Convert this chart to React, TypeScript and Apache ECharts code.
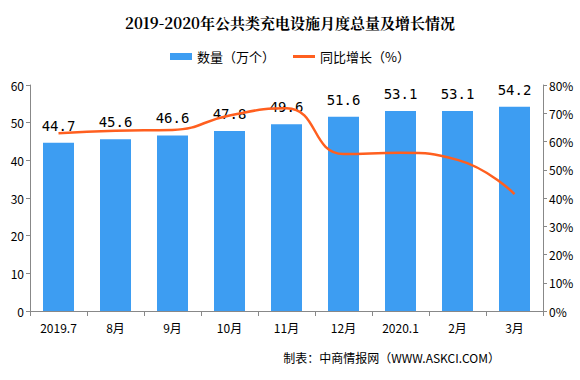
import React, { useEffect, useRef } from "react";
import * as echarts from "echarts";

const categories = ["2019.7", "8月", "9月", "10月", "11月", "12月", "2020.1", "2月", "3月"];
const counts = [44.7, 45.6, 46.6, 47.8, 49.6, 51.6, 53.1, 53.1, 54.2];
const growth = [62.9, 63.8, 64.1, 69.2, 71.8, 55.6, 56.0, 53.5, 41.4];

const FONT = "'Noto Sans CJK SC', 'Noto Sans', sans-serif";

export default function App() {
  const ref = useRef<HTMLDivElement>(null);
  useEffect(() => {
    const chart = echarts.init(ref.current!, null, { renderer: "svg" });
    chart.setOption({
      animation: false,
      backgroundColor: "#ffffff",
      title: {
        text: "2019-2020年公共类充电设施月度总量及增长情况",
        left: "center",
        top: 10,
        textStyle: { fontSize: 15, fontWeight: "bold", color: "#000", fontFamily: "'Noto Serif CJK SC', 'Noto Sans CJK SC', serif" },
      },
      legend: {
        top: 45,
        left: "center",
        itemWidth: 22,
        itemHeight: 7,
        itemGap: 18,
        textStyle: { fontSize: 13, color: "#000", fontFamily: FONT },
        data: [
          { name: "数量（万个）", icon: "rect" },
          { name: "同比增长（%）", icon: "path://M0,0 L22,0 L22,3 L0,3 Z" },
        ],
      },
      grid: { left: 30, right: 37, top: 85, bottom: 69, containLabel: false },
      xAxis: {
        type: "category",
        data: categories,
        axisLine: { lineStyle: { color: "#888" } },
        axisTick: { show: true, alignWithLabel: false, length: 5, lineStyle: { color: "#888" } },
        axisLabel: { color: "#000", fontSize: 12, margin: 10, fontFamily: FONT },
      },
      yAxis: [
        {
          type: "value",
          min: 0,
          max: 60,
          interval: 10,
          axisLine: { show: true, lineStyle: { color: "#888" } },
          axisTick: { show: true, length: 4, lineStyle: { color: "#888" } },
          splitLine: { show: false },
          axisLabel: { color: "#000", fontSize: 12, margin: 6, fontFamily: FONT },
        },
        {
          type: "value",
          min: 0,
          max: 80,
          interval: 10,
          position: "right",
          axisLine: { show: true, lineStyle: { color: "#888" } },
          axisTick: { show: true, length: 4, lineStyle: { color: "#888" } },
          splitLine: { show: false },
          axisLabel: { color: "#000", fontSize: 12, margin: 6, formatter: "{value}%", fontFamily: FONT },
        },
      ],
      series: [
        {
          name: "数量（万个）",
          type: "bar",
          data: counts,
          barWidth: 31,
          itemStyle: { color: "#3D9DF2" },
          label: {
            show: true,
            position: "top",
            distance: 10,
            color: "#000",
            fontSize: 14,
            fontFamily: "'DejaVu Sans Mono', monospace",
          },
        },
        {
          name: "同比增长（%）",
          type: "line",
          yAxisIndex: 1,
          data: growth,
          smooth: true,
          showSymbol: false,
          symbol: "none",
          lineStyle: { color: "#FF5F1F", width: 2.5 },
          itemStyle: { color: "#FF5F1F" },
        },
      ],
      graphic: [
        {
          type: "text",
          right: 80,
          top: 351,
          style: {
            text: "制表：中商情报网（WWW.ASKCI.COM）",
            fill: "#000",
            fontSize: 12,
            fontFamily: FONT,
          },
        },
      ],
    });
    return () => chart.dispose();
  }, []);
  return (
    <div style={{ position: "fixed", left: 0, top: 0, width: 580, height: 380 }}>
      <div ref={ref} style={{ width: 580, height: 380 }} />
    </div>
  );
}
